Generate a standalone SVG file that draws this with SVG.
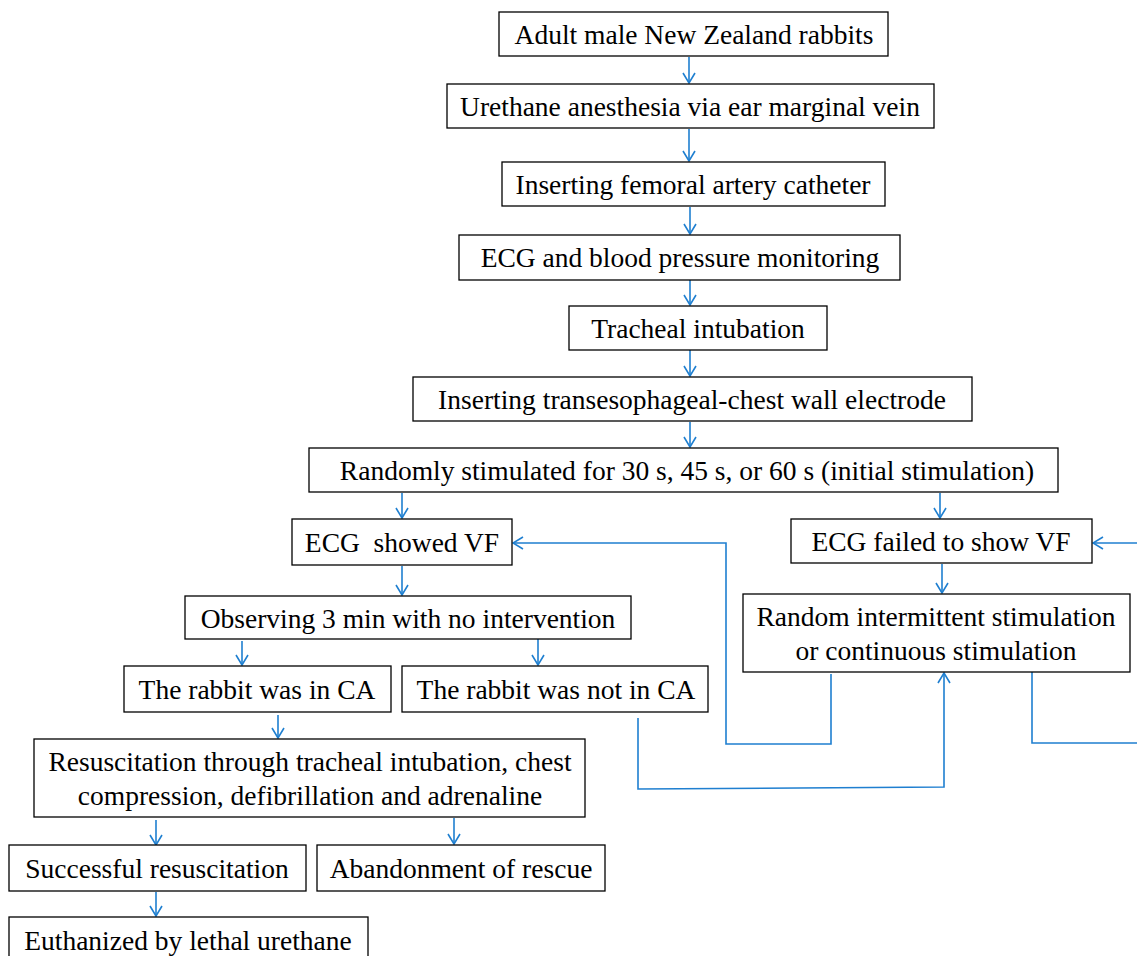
<svg xmlns="http://www.w3.org/2000/svg" width="1137" height="956" viewBox="0 0 1137 956">
<defs>
<style>
.box{fill:#fff;stroke:#000;stroke-width:1.3}
.t{font-family:"Liberation Serif","Times New Roman",serif;font-size:27.5px;fill:#000;text-anchor:middle}
.c{fill:none;stroke:#1f7fd0;stroke-width:1.6}
</style>
<marker id="ah" viewBox="0 0 12 14" refX="11" refY="7" markerWidth="12" markerHeight="14" markerUnits="userSpaceOnUse" orient="auto">
<path d="M1,1 L11,7 L1,13" fill="none" stroke="#1f7fd0" stroke-width="1.6"/>
</marker>
</defs>
<rect width="1137" height="956" fill="#fff"/>
<g id="connectors">
<line class="c" x1="689" y1="57" x2="689" y2="83" marker-end="url(#ah)"/>
<line class="c" x1="689" y1="129" x2="689" y2="161" marker-end="url(#ah)"/>
<line class="c" x1="690" y1="207" x2="690" y2="234" marker-end="url(#ah)"/>
<line class="c" x1="690" y1="280" x2="690" y2="305" marker-end="url(#ah)"/>
<line class="c" x1="690" y1="350" x2="690" y2="376" marker-end="url(#ah)"/>
<line class="c" x1="690" y1="422" x2="690" y2="447" marker-end="url(#ah)"/>
<line class="c" x1="402" y1="493" x2="402" y2="518" marker-end="url(#ah)"/>
<line class="c" x1="940" y1="493" x2="940" y2="518" marker-end="url(#ah)"/>
<line class="c" x1="402" y1="566" x2="402" y2="595" marker-end="url(#ah)"/>
<line class="c" x1="942" y1="564" x2="942" y2="593" marker-end="url(#ah)"/>
<line class="c" x1="242" y1="641" x2="242" y2="665" marker-end="url(#ah)"/>
<line class="c" x1="538" y1="639" x2="538" y2="665" marker-end="url(#ah)"/>
<line class="c" x1="278" y1="715" x2="278" y2="738" marker-end="url(#ah)"/>
<line class="c" x1="156" y1="820" x2="156" y2="845" marker-end="url(#ah)"/>
<line class="c" x1="454" y1="818" x2="454" y2="844" marker-end="url(#ah)"/>
<line class="c" x1="156" y1="892" x2="156" y2="916" marker-end="url(#ah)"/>
<polyline class="c" points="638,718 638,789 944,787 944,673" marker-end="url(#ah)"/>
<polyline class="c" points="831,674 831,744 726,744 726,543 513,543" marker-end="url(#ah)"/>
<polyline class="c" points="1032,672 1032,743 1137,743"/>
<line class="c" x1="1137" y1="543" x2="1093" y2="543" marker-end="url(#ah)"/>
</g>
<g id="n1"><rect class="box" x="499" y="12" width="389" height="44"/><text class="t" x="694" y="44">Adult male New Zealand rabbits</text></g>
<g id="n2"><rect class="box" x="447" y="84" width="487" height="44"/><text class="t" x="690" y="116">Urethane anesthesia via ear marginal vein</text></g>
<g id="n3"><rect class="box" x="502" y="162" width="383" height="44"/><text class="t" x="693" y="194">Inserting femoral artery catheter</text></g>
<g id="n4"><rect class="box" x="459" y="235" width="441" height="45"/><text class="t" x="680" y="267">ECG and blood pressure monitoring</text></g>
<g id="n5"><rect class="box" x="569" y="306" width="258" height="44"/><text class="t" x="698" y="338">Tracheal intubation</text></g>
<g id="n6"><rect class="box" x="413" y="377" width="559" height="44"/><text class="t" x="692" y="409">Inserting transesophageal-chest wall electrode</text></g>
<g id="n7"><rect class="box" x="309" y="448" width="749" height="44"/><text class="t" x="687" y="480">Randomly stimulated for 30 s, 45 s, or 60 s (initial stimulation)</text></g>
<g id="n8"><rect class="box" x="292" y="519" width="220" height="46"/><text class="t" x="402" y="552" xml:space="preserve">ECG  showed VF</text></g>
<g id="n9"><rect class="box" x="791" y="519" width="301" height="44"/><text class="t" x="941" y="551">ECG failed to show VF</text></g>
<g id="n10"><rect class="box" x="185" y="596" width="446" height="43"/><text class="t" x="408" y="628">Observing 3 min with no intervention</text></g>
<g id="n11"><rect class="box" x="743" y="594" width="387" height="78"/><text class="t" x="936" y="626">Random intermittent stimulation</text><text class="t" x="936" y="660">or continuous stimulation</text></g>
<g id="n12"><rect class="box" x="124" y="666" width="267" height="46"/><text class="t" x="257" y="699">The rabbit was in CA</text></g>
<g id="n13"><rect class="box" x="402" y="666" width="306" height="46"/><text class="t" x="556" y="699">The rabbit was not in CA</text></g>
<g id="n14"><rect class="box" x="34" y="739" width="551" height="78"/><text class="t" x="310" y="771">Resuscitation through tracheal intubation, chest</text><text class="t" x="310" y="805">compression, defibrillation and adrenaline</text></g>
<g id="n15"><rect class="box" x="9" y="845" width="297" height="46"/><text class="t" x="157" y="878">Successful resuscitation</text></g>
<g id="n16"><rect class="box" x="317" y="845" width="288" height="46"/><text class="t" x="461" y="878">Abandonment of rescue</text></g>
<g id="n17"><rect class="box" x="9" y="917" width="359" height="50"/><text class="t" x="188" y="950">Euthanized by lethal urethane</text></g>
</svg>
